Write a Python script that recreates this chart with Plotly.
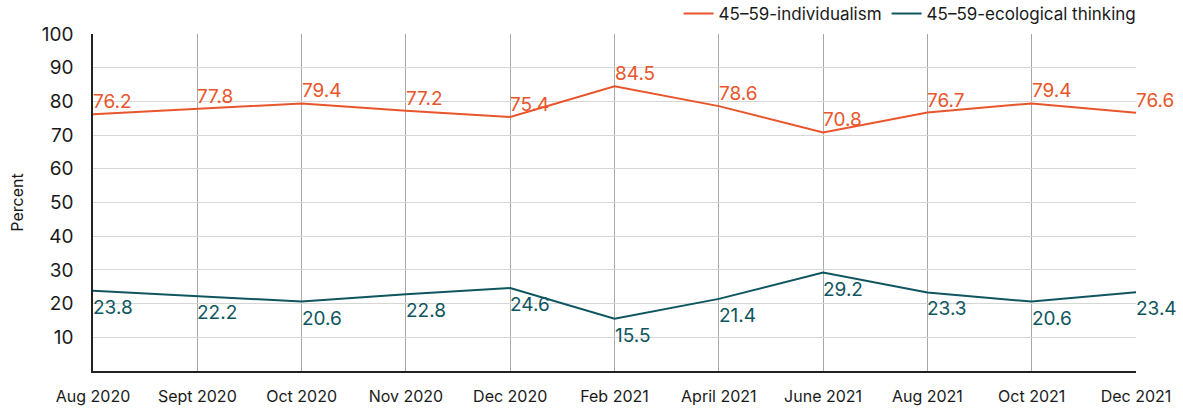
import plotly.graph_objects as go

months = ["Aug 2020", "Sept 2020", "Oct 2020", "Nov 2020", "Dec 2020", "Feb 2021",
          "April 2021", "June 2021", "Aug 2021", "Oct 2021", "Dec 2021"]
individualism = [76.2, 77.8, 79.4, 77.2, 75.4, 84.5, 78.6, 70.8, 76.7, 79.4, 76.6]
ecological = [23.8, 22.2, 20.6, 22.8, 24.6, 15.5, 21.4, 29.2, 23.3, 20.6, 23.4]
y_ticks = [10, 20, 30, 40, 50, 60, 70, 80, 90, 100]

ORANGE = "#E8552B"
TEAL = "#0E5560"
FONT = "Inter, Noto Sans, sans-serif"

fig = go.Figure()
fig.add_trace(go.Scatter(
    x=months, y=individualism, mode="lines", name="45\u201359-individualism",
    line=dict(color=ORANGE, width=2),
))
fig.add_trace(go.Scatter(
    x=months, y=ecological, mode="lines", name="45\u201359-ecological thinking",
    line=dict(color=TEAL, width=2),
))

# value labels: orange above-right of each point, teal below-right
annotations = []
for m, v in zip(months, individualism):
    annotations.append(dict(x=m, y=v, text=f"{v:.1f}", showarrow=False,
                            xanchor="left", yanchor="bottom", yshift=-1, xshift=-2,
                            font=dict(color=ORANGE, size=19, family=FONT)))
for m, v in zip(months, ecological):
    annotations.append(dict(x=m, y=v, text=f"{v:.1f}", showarrow=False,
                            xanchor="left", yanchor="top", yshift=-3, xshift=-2,
                            font=dict(color=TEAL, size=19, family=FONT)))

fig.update_layout(
    width=1183, height=411,
    margin=dict(l=93, r=47, t=34, b=40, autoexpand=False),
    paper_bgcolor="white", plot_bgcolor="white",
    font=dict(family=FONT, size=16, color="#1a1a1a"),
    showlegend=True,
    annotations=annotations,
    legend=dict(orientation="h", x=0.965, xanchor="right", xref="container",
                y=0.966, yanchor="middle", yref="container",
                font=dict(size=17, color="#1a1a1a"), bgcolor="rgba(0,0,0,0)",
                traceorder="normal"),
    xaxis=dict(
        type="category", range=[0, len(months) - 1],
        showgrid=True, gridcolor="#A8A8A8", gridwidth=1,
        showline=True, linecolor="#222", linewidth=1.5,
        ticks="", tickfont=dict(size=16), zeroline=False,
        ticklabelstandoff=10,
    ),
    yaxis=dict(
        range=[0, 100], tickvals=y_ticks,
        showgrid=True, gridcolor="#D6D6D6", gridwidth=1,
        showline=True, linecolor="#222", linewidth=1.5,
        ticks="", tickfont=dict(size=19), zeroline=False,
        ticklabelstandoff=14,
        title=dict(text="Percent", font=dict(size=16), standoff=14),
    ),
)

fig.write_html("out.html")
